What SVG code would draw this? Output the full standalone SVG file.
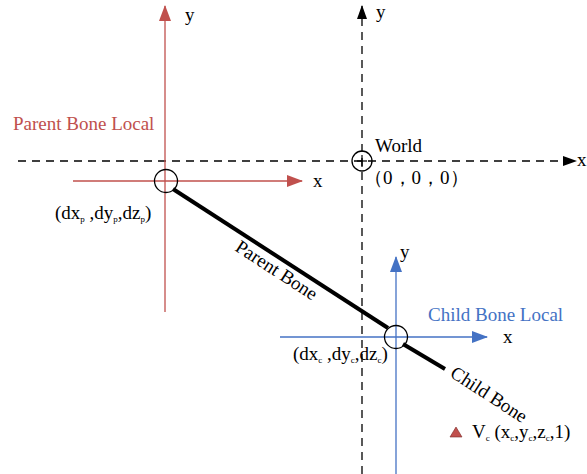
<svg xmlns="http://www.w3.org/2000/svg" width="587" height="474" viewBox="0 0 587 474">
<style>
text{font-family:"Liberation Serif","Times New Roman",serif;font-size:19px;fill:#000}
.red{fill:#c0504d}
.blue{fill:#4472c4}
.sub{font-size:9px}
.dash{stroke:#000;stroke-width:1.3;stroke-dasharray:8 6;fill:none}
.circ{fill:none;stroke:#000;stroke-width:1.3}
</style>
<defs>
<marker id="ak" markerWidth="14" markerHeight="10" refX="13" refY="5" orient="auto" markerUnits="userSpaceOnUse"><path d="M0,0 L14,5 L0,10 Z" fill="#000"/></marker>
<marker id="ar" markerWidth="16" markerHeight="12" refX="15" refY="6" orient="auto" markerUnits="userSpaceOnUse"><path d="M0,0 L16,6 L0,12 Z" fill="#c0504d"/></marker>
<marker id="ab" markerWidth="16" markerHeight="12" refX="15" refY="6" orient="auto" markerUnits="userSpaceOnUse"><path d="M0,0 L16,6 L0,12 Z" fill="#4472c4"/></marker>
</defs>
<g id="world">
<line class="dash" x1="18" y1="161" x2="576" y2="161" marker-end="url(#ak)"/>
<line class="dash" x1="362" y1="474" x2="362" y2="6" marker-end="url(#ak)"/>
<circle class="circ" cx="362" cy="161" r="10"/>
<line x1="362" y1="155" x2="362" y2="167" stroke="#000" stroke-width="1.2"/>
<line x1="357" y1="161" x2="367" y2="161" stroke="#000" stroke-width="1.2"/>
<text x="577" y="166">x</text>
<text x="376" y="18">y</text>
<text x="375" y="152">World</text>
<text x="364" y="184" font-size="17" font-family="'Noto Sans CJK SC',serif">（0，0，0）</text>
</g>
<g id="parent-local">
<line x1="165" y1="312" x2="165" y2="6" stroke="#c0504d" stroke-width="1.3" marker-end="url(#ar)"/>
<line x1="73" y1="181" x2="302" y2="181" stroke="#c0504d" stroke-width="1.3" marker-end="url(#ar)"/>
<text x="185" y="21">y</text>
<text x="313" y="187">x</text>
<text class="red" x="13" y="130">Parent Bone Local</text>
<circle class="circ" cx="166" cy="181" r="11.5"/>
<text x="55" y="219">(dx<tspan class="sub" dy="3">p</tspan><tspan dy="-3"> ,dy</tspan><tspan class="sub" dy="3">p</tspan><tspan dy="-3">,dz</tspan><tspan class="sub" dy="3">p</tspan><tspan dy="-3">)</tspan></text>
</g>
<g id="child-local">
<line x1="396" y1="474" x2="396" y2="257" stroke="#4472c4" stroke-width="1.3" marker-end="url(#ab)"/>
<line x1="280" y1="337" x2="487" y2="337" stroke="#4472c4" stroke-width="1.3" marker-end="url(#ab)"/>
<text x="400" y="258">y</text>
<text x="503" y="343">x</text>
<text class="blue" x="428" y="321">Child Bone Local</text>
<circle class="circ" cx="396" cy="337" r="11.5"/>
<text x="293" y="360">(dx<tspan class="sub" dy="3">c</tspan><tspan dy="-3"> ,dy</tspan><tspan class="sub" dy="3">c</tspan><tspan dy="-3">,dz</tspan><tspan class="sub" dy="3">c</tspan><tspan dy="-3">)</tspan></text>
</g>
<g id="bones">
<line x1="173" y1="189" x2="388" y2="328" stroke="#000" stroke-width="4"/>
<line x1="403" y1="344" x2="445" y2="369" stroke="#000" stroke-width="4"/>
<text transform="translate(234,250) rotate(33)">Parent Bone</text>
<text transform="translate(449,376) rotate(33)">Child Bone</text>
</g>
<g id="vertex">
<path d="M456,427 L462,437 L450,437 Z" fill="#c0504d" stroke="#7a2a28" stroke-width="0.6"/>
<text x="472" y="438">V<tspan class="sub" dy="3">c</tspan><tspan dy="-3"> (x</tspan><tspan class="sub" dy="3">c</tspan><tspan dy="-3">,y</tspan><tspan class="sub" dy="3">c</tspan><tspan dy="-3">,z</tspan><tspan class="sub" dy="3">c</tspan><tspan dy="-3">,1)</tspan></text>
</g>
</svg>
